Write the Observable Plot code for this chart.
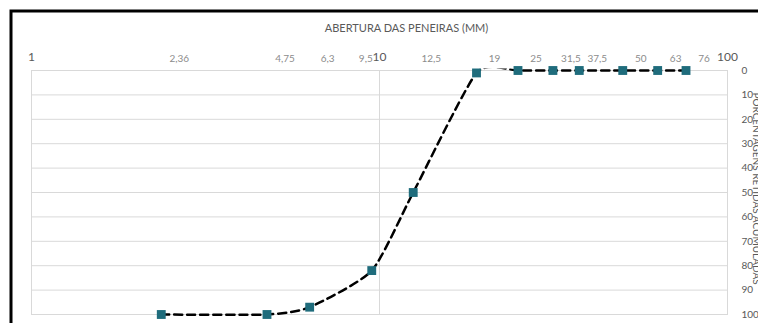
<!DOCTYPE html>
<html>
<head>
<meta charset="utf-8">
<script src="https://cdn.jsdelivr.net/npm/d3@7"></script>
<script src="https://cdn.jsdelivr.net/npm/@observablehq/plot@0.6"></script>
<style>
  html, body { margin: 0; padding: 0; background: #fff; }
  #chart svg { display: block; }
</style>
</head>
<body>
<div id="chart"></div>
<script>
const sieves = [2.36, 4.75, 6.3, 9.5, 12.5, 19, 25, 31.5, 37.5, 50, 63, 76];
const sieveLabels = ["2,36", "4,75", "6,3", "9,5", "12,5", "19", "25", "31,5", "37,5", "50", "63", "76"];
const retained = [100, 100, 97, 82, 50, 1, 0, 0, 0, 0, 0, 0];
const xTicks = [1, 10, 100];
const yTicks = [0, 10, 20, 30, 40, 50, 60, 70, 80, 90, 100];
const title = "ABERTURA DAS PENEIRAS (MM)";
const yTitle = "PORCENTAGENS RETIDAS ACUMULADAS";

const data = sieves.map((s, i) => ({size: s, pct: retained[i], label: sieveLabels[i]}));
const labelsMain = data.filter(d => d.label !== "9,5");
const labelsLeft = data.filter(d => d.label === "9,5");

const chart = Plot.plot({
  width: 758,
  height: 323,
  marginLeft: 31,
  marginRight: 31,
  marginTop: 70,
  marginBottom: 9,
  style: {fontFamily: "Lato, 'Open Sans', sans-serif", background: "#fff"},
  x: {type: "log", domain: [1, 100]},
  y: {domain: [0, 100], reverse: true},
  marks: [
    Plot.frame({stroke: "#000", strokeWidth: 3, insetLeft: -20.5, insetTop: -59.5, insetRight: -80, insetBottom: -80}),
    Plot.gridY(yTicks, {stroke: "#d9d9d9", strokeOpacity: 1, strokeWidth: 1}),
    Plot.gridX([10], {stroke: "#d9d9d9", strokeOpacity: 1, strokeWidth: 1}),
    Plot.frame({stroke: "#d9d9d9", strokeWidth: 1}),
    Plot.axisX(xTicks, {anchor: "top", tickSize: 0, tickPadding: 10, tickFormat: d => String(d), fontSize: 12, fill: "#595959", label: null}),
    Plot.axisY(yTicks, {anchor: "right", tickSize: 0, tickPadding: 14, fontSize: 10, fill: "#595959", label: null}),
    Plot.text(labelsMain, {x: "size", text: "label", frameAnchor: "top", lineAnchor: "middle", dy: -12, dx: 18, fontSize: 10, fill: "#8c8c8c"}),
    Plot.text(labelsLeft, {x: "size", text: "label", frameAnchor: "top", lineAnchor: "middle", dy: -12, dx: 1, textAnchor: "end", fontSize: 10, fill: "#8c8c8c"}),
    Plot.line(data, {x: "size", y: "pct", stroke: "#000", strokeWidth: 2.5, strokeDasharray: "8,5", curve: "cardinal", tension: 0.4, clip: true}),
    Plot.dot(data, {x: "size", y: "pct", symbol: "square", r: 5, fill: "#1f6c7c", stroke: "none"}),
    Plot.text([title], {frameAnchor: "top", lineAnchor: "middle", dy: -42, dx: 27, fontSize: 11, fill: "#595959"}),
    Plot.text([yTitle], {frameAnchor: "right", textAnchor: "middle", lineAnchor: "middle", dx: 29, dy: -4, rotate: 90, fontSize: 10, fill: "#595959"})
  ]
});
// widen the line's clip region slightly so strokes lying on the frame edge stay whole
chart.querySelectorAll("clipPath rect").forEach(r => {
  const y = +r.getAttribute("y"), h = +r.getAttribute("height");
  r.setAttribute("y", y - 1.5);
  r.setAttribute("height", h + 5);
});
document.getElementById("chart").appendChild(chart);
</script>
</body>
</html>
